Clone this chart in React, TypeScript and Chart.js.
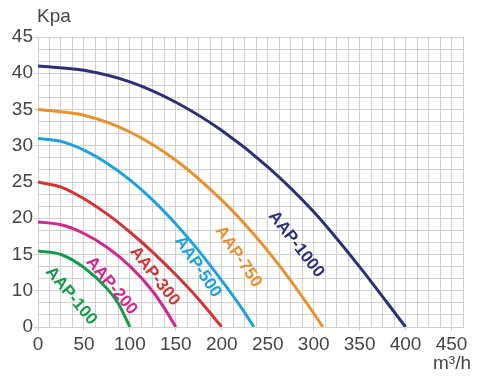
import React, { useEffect, useRef } from "react";
import { Chart, registerables } from "chart.js";

Chart.register(...registerables);

// ---- data (flow m³/h → head; bottom grid line is the axis' "0") ----
const aap100Flow = [0, 25, 50, 75, 87.5, 100];
const aap100Head = [15.5, 15.0, 13.2, 10.3, 8.2, 5];

const aap200Flow = [0, 25, 50, 75, 100, 125, 137.5, 150];
const aap200Head = [19.5, 19.1, 17.9, 16.0, 13.4, 9.9, 7.6, 5];

const aap300Flow = [0, 25, 50, 75, 100, 125, 150, 175, 200];
const aap300Head = [25, 24.3, 22.7, 20.6, 18.1, 15.3, 12.2, 8.8, 5];

const aap500Flow = [0, 25, 50, 75, 100, 125, 150, 175, 200, 220, 235];
const aap500Head = [31, 30.6, 29.4, 27.6, 25.3, 22.5, 19.2, 15.5, 11.4, 7.9, 5];

const aap750Flow = [0, 50, 100, 150, 200, 225, 250, 275, 300, 310];
const aap750Head = [35, 34.2, 31.9, 28.0, 22.5, 19.2, 15.5, 11.4, 6.9, 5];

const aap1000Flow = [0, 50, 100, 150, 200, 250, 300, 350, 400];
const aap1000Head = [41, 40.4, 38.8, 36.0, 32.1, 27.1, 20.9, 13.3, 5];

const seriesNames = ["AAP-100", "AAP-200", "AAP-300", "AAP-500", "AAP-750", "AAP-1000"];
const seriesColors = ["#189a4e", "#d1288e", "#cf3535", "#1fa2dc", "#e8912d", "#2f2f78"];
const seriesFlows = [aap100Flow, aap200Flow, aap300Flow, aap500Flow, aap750Flow, aap1000Flow];
const seriesHeads = [aap100Head, aap200Head, aap300Head, aap500Head, aap750Head, aap1000Head];

// curve label anchors in data units, with text angle (degrees)
const labelFlow = [36, 80, 127, 174, 218, 281];
const labelHead = [9.3, 10.7, 12.0, 13.3, 14.7, 16.4];
const labelAngle = [50, 50, 52, 56, 56, 52];

// axes
const xMin = 0;
const xMax = 462.5;
const xMinorStep = 12.5;
const xMajorStep = 50;
const yMin = 5;
const yMax = 45;
const yMinorCount = 24;
const yTickValues = [5, 10, 15, 20, 25, 30, 35, 40, 45];
const yTickLabels = ["0", "10", "15", "20", "25", "30", "35", "40", "45"];
const yUnit = "Kpa";
const xUnit = "m³/h";

const FONT = "'Liberation Sans', Arial, sans-serif";
const TEXT = "#454545";
const GRID = "#d0d0d0";

export default function App() {
  const ref = useRef<HTMLCanvasElement | null>(null);

  useEffect(() => {
    if (!ref.current) return;

    const datasets = seriesNames.map((name, i) => ({
      label: name,
      data: seriesFlows[i].map((f, j) => ({ x: f, y: seriesHeads[i][j] })),
      borderColor: seriesColors[i],
      backgroundColor: seriesColors[i],
      borderWidth: 3,
      pointRadius: 0,
      fill: false,
      cubicInterpolationMode: "monotone" as const,
    }));

    const textPlugin = {
      id: "texts",
      afterDatasetsDraw(chart: any) {
        const ctx = chart.ctx;
        const xs = chart.scales.x;
        const ys = chart.scales.y;
        const area = chart.chartArea;
        ctx.save();
        seriesNames.forEach((name, i) => {
          const px = xs.getPixelForValue(labelFlow[i]);
          const py = ys.getPixelForValue(labelHead[i]);
          ctx.save();
          ctx.translate(px, py);
          ctx.rotate((labelAngle[i] * Math.PI) / 180);
          ctx.font = `bold 17px ${FONT}`;
          ctx.fillStyle = seriesColors[i];
          ctx.textAlign = "center";
          ctx.textBaseline = "middle";
          ctx.fillText(name, 0, 0);
          ctx.restore();
        });
        ctx.font = `19px ${FONT}`;
        ctx.fillStyle = TEXT;
        ctx.textBaseline = "middle";
        ctx.textAlign = "left";
        ctx.fillText(yUnit, area.left - 1, 17);
        ctx.textAlign = "right";
        ctx.fillText(xUnit, 471, 364);
        ctx.restore();
      },
    };

    const chart = new Chart(ref.current, {
      type: "line",
      data: { datasets },
      plugins: [textPlugin],
      options: {
        animation: false,
        responsive: false,
        maintainAspectRatio: false,
        layout: { padding: { top: 37, right: 20, left: 0, bottom: 0 } },
        plugins: { legend: { display: false }, tooltip: { enabled: false } },
        scales: {
          x: {
            type: "linear",
            min: xMin,
            max: xMax,
            afterBuildTicks: (axis: any) => {
              const t = [];
              for (let v = xMin; v <= xMax + 1e-6; v += xMinorStep) t.push({ value: v });
              axis.ticks = t;
            },
            afterFit: (s: any) => {
              s.height = 54;
            },
            ticks: {
              autoSkip: false,
              maxRotation: 0,
              minRotation: 0,
              padding: 2,
              color: TEXT,
              font: { family: FONT, size: 19 },
              callback: (v: any) => (Math.abs(v % xMajorStep) < 1e-6 ? String(v) : ""),
            },
            grid: {
              color: GRID,
              lineWidth: 1,
              tickLength: 4,
              tickColor: (c: any) =>
                c.tick && Math.abs(c.tick.value % xMajorStep) < 1e-6 && c.tick.value <= 450 ? GRID : "rgba(0,0,0,0)",
            },
            border: { display: true, color: GRID },
          },
          y: {
            type: "linear",
            min: yMin,
            max: yMax,
            afterBuildTicks: (axis: any) => {
              const t = [];
              for (let i = 0; i <= yMinorCount; i++) t.push({ value: yMin + ((yMax - yMin) * i) / yMinorCount });
              axis.ticks = t;
            },
            afterFit: (s: any) => {
              s.width = 38;
            },
            ticks: {
              autoSkip: false,
              padding: 1,
              color: TEXT,
              font: { family: FONT, size: 19 },
              callback: (v: any) => {
                const k = yTickValues.findIndex((tv) => Math.abs(tv - v) < 1e-6);
                return k >= 0 ? yTickLabels[k] : "";
              },
            },
            grid: {
              color: GRID,
              lineWidth: 1,
              tickLength: 4,
              tickColor: (c: any) =>
                c.tick && yTickValues.some((tv) => Math.abs(tv - c.tick.value) < 1e-6) ? GRID : "rgba(0,0,0,0)",
            },
            border: { display: true, color: GRID },
          },
        },
      },
    });
    return () => chart.destroy();
  }, []);

  return (
    <div style={{ position: "fixed", left: 0, top: 0, width: 483, height: 381, background: "#fff" }}>
      <canvas ref={ref} width={483} height={381} style={{ display: "block" }} />
    </div>
  );
}
